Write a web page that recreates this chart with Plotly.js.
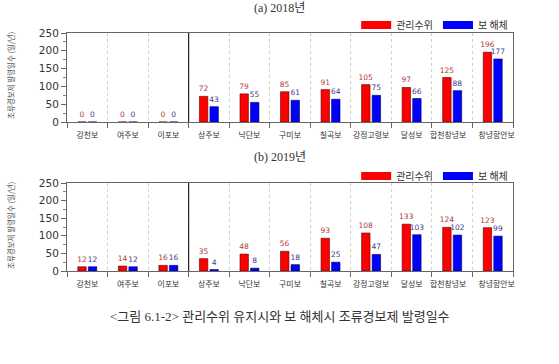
<!DOCTYPE html>
<html>
<head>
<meta charset="utf-8">
<script src="https://cdn.plot.ly/plotly-3.0.1.min.js"></script>
<style>html,body{margin:0;padding:0;background:#fff;}#chart{width:559px;height:364px;}</style>
</head>
<body>
<div id="chart"></div>
<script>
const categories = ['강천보','여주보','이포보','상주보','낙단보','구미보','칠곡보','강정고령보','달성보','합천창녕보','창녕함안보'];
const mgmt2018 = [0,0,0,72,79,85,91,105,97,125,196];
const removal2018 = [0,0,0,43,55,61,64,75,66,88,177];
const mgmt2019 = [12,14,16,35,48,56,93,108,133,124,123];
const removal2019 = [12,12,16,4,8,18,25,47,103,102,99];
const seriesNames = ['관리수위','보 해체'];
const yTicks = [0,50,100,150,200,250];
const panelTitles = ['(a) 2018년','(b) 2019년'];
const caption = '<그림 6.1-2> 관리수위 유지시와 보 해체시 조류경보제 발령일수';
const yTitle = '조류경보제 발령일수 (일/년)';

const RED = '#ff0000', BLUE = '#0000ff';
const KR = 'Noto Sans CJK KR, DejaVu Sans, sans-serif';
const NUM = 'DejaVu Sans, sans-serif';
const SERIF = 'Liberation Serif, Noto Sans CJK KR, serif';

// nudge the last two long labels apart (as in the original) so they don't touch
const tickText = categories.map((c, i) =>
  i === categories.length - 2 ? c + '\u2003' : (i === categories.length - 1 ? '\u2003' + c : c));

function barTrace(vals, name, color, lineColor, txtColor, xa, ya) {
  return {
    type: 'bar', x: categories, y: vals, name: name, xaxis: xa, yaxis: ya,
    marker: {color: color, line: {color: lineColor, width: 0.6}},
    text: vals.map(String), textposition: 'outside', cliponaxis: false,
    constraintext: 'none',
    textfont: {family: NUM, size: 7.5, color: txtColor},
    showlegend: false, hoverinfo: 'skip'
  };
}
function legendTrace(name, color, leg) {
  return {type: 'scatter', mode: 'lines', x: [null], y: [null], name: name,
    line: {color: color, width: 8}, legend: leg, xaxis: 'x', yaxis: 'y'};
}

const data = [
  barTrace(mgmt2018, seriesNames[0], RED, '#550000', '#b03a3a', 'x', 'y'),
  barTrace(removal2018, seriesNames[1], BLUE, '#000055', '#3a3a90', 'x', 'y'),
  barTrace(mgmt2019, seriesNames[0], RED, '#550000', '#b03a3a', 'x2', 'y2'),
  barTrace(removal2019, seriesNames[1], BLUE, '#000055', '#3a3a90', 'x2', 'y2'),
  legendTrace(seriesNames[0], RED, 'legend'),
  legendTrace(seriesNames[1], BLUE, 'legend'),
  legendTrace(seriesNames[0], RED, 'legend2'),
  legendTrace(seriesNames[1], BLUE, 'legend2')
];

const H = 364, W = 559;
const py = p => 1 - p / H;
const xDom = [67 / W, 513 / W];

function xAxis(anchor) {
  return {domain: xDom, anchor: anchor, type: 'category',
    tickmode: 'array', tickvals: categories, ticktext: tickText,
    showline: true, mirror: true, linecolor: '#666', linewidth: 1,
    ticks: 'outside', tickson: 'boundaries', ticklen: 5, tickcolor: '#666',
    showgrid: true, griddash: 'dot', gridcolor: '#cfcfcf', gridwidth: 1,
    tickangle: 0, ticklabelstandoff: 6,
    tickfont: {family: KR, size: 7.9, color: '#333'}, fixedrange: true};
}
function yAxis(anchor, dom) {
  return {domain: dom, anchor: anchor, range: [0, 250], tickvals: yTicks,
    showline: true, mirror: true, linecolor: '#666', linewidth: 1,
    ticks: 'outside', ticklen: 5, tickcolor: '#666', showgrid: false, zeroline: false,
    minor: {dtick: 25, ticks: 'outside', ticklen: 3, tickcolor: '#888'},
    tickfont: {family: NUM, size: 10.5, color: '#333'}, fixedrange: true};
}

const legendStyle = (yp) => ({orientation: 'h', x: 0.918, xanchor: 'right', y: py(yp), yanchor: 'middle',
    font: {family: KR, size: 10, color: '#333'}, itemwidth: 30, bgcolor: 'rgba(0,0,0,0)',
    tracegroupgap: 0});

function ann(text, x, y, font, extra) {
  return Object.assign({text: text, xref: 'paper', yref: 'paper', x: x, y: y, showarrow: false,
    xanchor: 'center', yanchor: 'middle', font: font}, extra || {});
}

const layout = {
  width: W, height: H, margin: {l: 0, r: 0, t: 0, b: 0},
  paper_bgcolor: '#fff', plot_bgcolor: '#fff',
  barmode: 'group', bargap: 0.48, bargroupgap: 0.2,
  xaxis: xAxis('y'), yaxis: yAxis('x', [py(122), py(33)]),
  xaxis2: xAxis('y2'), yaxis2: yAxis('x2', [py(271), py(183)]),
  legend: legendStyle(25),
  legend2: legendStyle(176),
  shapes: [
    {type: 'line', xref: 'x', yref: 'y domain', x0: 2.5, x1: 2.5, y0: 0, y1: 1, line: {color: '#222', width: 1.2}},
    {type: 'line', xref: 'x2', yref: 'y2 domain', x0: 2.5, x1: 2.5, y0: 0, y1: 1, line: {color: '#222', width: 1.2}}
  ],
  annotations: [
    ann(panelTitles[0], 0.5, py(8), {family: SERIF, size: 12, color: '#333'}),
    ann(panelTitles[1], 0.5, py(157), {family: SERIF, size: 12, color: '#333'}),
    ann(caption, 0.5, py(316), {family: SERIF, size: 13, color: '#333'}),
    ann(yTitle, 10 / W, py(76), {family: KR, size: 7.5, color: '#555'}, {textangle: -90}),
    ann(yTitle, 10 / W, py(226), {family: KR, size: 7.5, color: '#555'}, {textangle: -90})
  ]
};

Plotly.newPlot('chart', data, layout, {staticPlot: true, displayModeBar: false});
</script>
</body>
</html>
